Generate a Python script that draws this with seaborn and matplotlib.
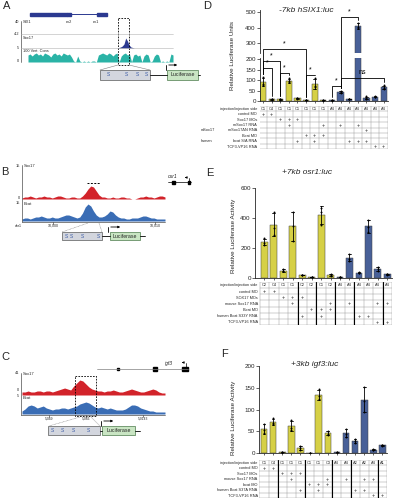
import numpy as np
import pandas as pd
import matplotlib
matplotlib.use("Agg")
import matplotlib.pyplot as plt
import seaborn as sns
from matplotlib.patches import Rectangle

W, H = 395, 500
YEL = "#EEE62E"
BLU = "#3B5BA5"

# ---------------- luciferase data (replicates per bar) ----------------
d_cells = ["C1", "C4", "C1", "C1", "C1", "C1", "C1", "C1", "A4", "A4", "A4", "A4", "A4", "A4", "A4"]
d_reps = [[115, 80, 78], [8, 9, 7], [8, 10, 7], [108, 93, 90], [15, 12, 10],
          [5, 4, 3], [108, 70, 65], [3, 4, 2], [3, 2, 4], [50, 45, 40],
          [11, 10, 9], [430, 405, 395], [22, 12, 11], [22, 20, 18], [75, 62, 58]]
d_group = ["Y"] * 8 + ["B"] * 7
d_rows = ["control MO", "Sox17 MOs", "mSox17 RNA", "mSox17ΔN RNA", "Bcat MO",
          "bcat S/A RNA", "TCF3-VP16 RNA"]
d_marks = [[0, 1], [2, 3, 4], [3, 7, 9, 11], [12], [5, 6, 7], [4, 6, 10, 11, 12], [13, 14]]

e_cells = ["C2", "C4", "C1", "C1", "C2", "C2", "C1", "C2", "A4", "A4", "A4", "A4", "A4", "A4"]
e_reps = [[265, 235, 220], [440, 335, 290], [58, 48, 44], [440, 345, 250], [22, 20, 18],
          [6, 5, 4], [465, 440, 355], [26, 20, 14], [6, 5, 4], [160, 130, 115],
          [38, 35, 32], [390, 340, 305], [75, 58, 47], [27, 24, 22]]
e_group = ["Y"] * 8 + ["B"] * 6
e_rows = ["control MO", "SOX17 MOs", "mouse Sox17 RNA", "Bcat MO",
          "human Bcat S33Y RNA", "TCF3-VP16 RNA"]
e_marks = [[0, 1], [2, 3, 4], [3, 7, 9, 12, 13], [5, 6, 7], [4, 6, 10, 11], [12, 13]]

f_cells = ["C1", "C4", "C1", "C1", "C1", "C1", "C1", "C3", "A4", "A4", "A2", "A2", "A4", "A1"]
f_reps = [[67, 52, 46], [80, 70, 66], [2, 2, 1], [75, 58, 54], [16, 11, 8],
          [1, 1, 1], [146, 130, 123], [50, 44, 41], [2, 2, 1], [55, 43, 37],
          [33, 28, 22], [152, 120, 95], [9, 8, 7], [19, 18, 17]]
f_group = ["Y"] * 8 + ["B"] * 6
f_rows = ["control MO", "Sox17 MOs", "mouse Sox17 RNA", "bcat MO",
          "human Bcat S37A RNA", "TCF3-VP16 RNA"]
f_marks = [[0, 1], [2, 3, 4], [3, 7, 9, 11, 12], [5, 6, 7], [4, 6, 10, 11], [12, 13]]

# ---------------- genome track signals ----------------
a_cons = [7, 8, 6, 8, 9, 7, 8, 6, 9, 8, 7, 5, 8, 9, 7, 8, 6, 9, 8, 7, 8, 5,
          1, 0, 6, 1, 0, 1, 0, 1, 0, 1, 1, 0,
          7, 8, 9, 8, 7, 9, 8, 6, 8, 9, 0, 6, 8, 9, 7, 8, 0,
          7, 8, 6, 7, 0, 6, 8, 7, 0, 1, 6, 8, 7, 0, 1, 0, 1, 0, 8, 7]
a_sox17 = [0, 0, 0, 0, 0.5, 1, 2, 4, 10, 7, 3, 1, 0.5, 0, 0]
b_sox17 = [1, 2, 2, 3, 2, 1, 2, 2, 3, 2, 2, 1, 2, 3, 3, 2, 1, 1, 2, 2, 1, 1,
           3, 6, 10, 13, 12, 8, 4, 2,
           2, 1, 1, 2, 1, 1, 2, 2, 1, 1, 0, 0,
           1, 2, 2, 3, 2, 2, 1, 2, 3, 3, 2]
b_bcat = [2, 3, 3, 2, 3, 4, 4, 5, 4, 3, 3, 4, 3, 3, 4, 5, 6, 6, 5, 4, 3, 4,
          8, 14, 17, 15, 10, 6, 4, 4,
          5, 7, 10, 9, 6, 4, 3, 3, 2, 2, 3, 3,
          3, 4, 5, 5, 4, 3, 3, 2, 2, 2, 2]
c_sox17 = [3, 3, 4, 3, 3, 4, 4, 3, 4, 4, 3, 4, 5, 6, 7, 6, 5,
           9, 12, 15, 14, 11, 8, 6, 5,
           4, 4, 3, 4, 4, 5, 4, 3, 3, 4, 5, 6, 5, 4, 3, 3, 4, 5, 6, 5, 3, 2, 2]
c_bcat = [3, 5, 8, 9, 8, 6, 7, 8, 6, 5, 4, 5, 5, 6, 6, 5, 6,
          7, 8, 10, 11, 12, 11, 9, 7,
          6, 7, 6, 5, 6, 5, 4, 4, 4, 5, 7, 9, 9, 8, 6, 5, 4, 3, 3, 2, 2, 2, 2]

sns.set_style("ticks")
plt.rcParams["font.family"] = ["Liberation Sans", "DejaVu Sans"]

fig = plt.figure(figsize=(W / 100, H / 100), dpi=100)
ov = fig.add_axes([0, 0, 1, 1])
ov.set_xlim(0, W)
ov.set_ylim(H, 0)
ov.axis("off")


def px_ax(x0, y0, x1, y1):
    ax = fig.add_axes([x0 / W, 1 - y1 / H, (x1 - x0) / W, (y1 - y0) / H])
    ax.set_facecolor("none")
    return ax


def to_ov(ax, x, y):
    return ov.transData.inverted().transform(ax.transData.transform((x, y)))


def bar_panel(ax, reps, group):
    df = pd.DataFrame([(str(i), v) for i, r in enumerate(reps) for v in r],
                      columns=["bar", "value"])
    order = [str(i) for i in range(len(reps))]
    pal = {str(i): (YEL if g == "Y" else BLU) for i, g in enumerate(group)}
    sns.barplot(data=df, x="bar", y="value", hue="bar", order=order, palette=pal,
                errorbar="sd", capsize=0.3, err_kws={"linewidth": 0.6, "color": "k"},
                edgecolor="0.25", linewidth=0.35, width=0.72, legend=False, ax=ax)
    sns.stripplot(data=df, x="bar", y="value", order=order, color="k", size=1.4,
                  jitter=False, ax=ax)
    ax.set_xlabel("")
    ax.set_ylabel("")
    ax.tick_params(axis="y", labelsize=4.5, length=2, width=0.5, pad=1)
    ax.tick_params(axis="x", length=1.5, width=0.5, labelbottom=False)
    for s in ["top", "right"]:
        ax.spines[s].set_visible(False)
    for s in ["left", "bottom"]:
        ax.spines[s].set_linewidth(0.6)


def draw_table(ax, cells, rows, marks, xlim, seps=(), groups=None):
    n = len(cells)
    nr = len(rows) + 1
    ax.set_xlim(*xlim)
    ax.set_ylim(nr, 0)
    ax.axis("off")
    for i in range(nr + 1):
        ax.plot([-0.5, n - 0.5], [i, i], color="0.55", lw=0.3)
    for j in range(n + 1):
        ax.plot([j - 0.5, j - 0.5], [0, nr], color="0.55", lw=0.3)
    for s in seps:
        ax.plot([s, s], [0, nr], color="black", lw=0.8)
    for j, c in enumerate(cells):
        ax.text(j, 0.55, c, ha="center", va="center", fontsize=2.8)
    ax.text(-0.7, 0.55, "injection/injection side", ha="right", va="center", fontsize=2.8)
    for i, r in enumerate(rows):
        ax.text(-0.7, i + 1.55, r, ha="right", va="center", fontsize=2.8)
    for i, m in enumerate(marks):
        for j in m:
            ax.text(j, i + 1.55, "+", ha="center", va="center", fontsize=4)
    if groups:
        for i, g in groups:
            ax.text(-7.2, i + 1.55, g, ha="left", va="center", fontsize=2.8)


# ---------------- panel D (broken axis) ----------------
d_top = px_ax(260, 10, 388, 53)
d_bot = px_ax(260, 58, 388, 101)
d_xlim = (-0.35, 14.5)
for ax in (d_top, d_bot):
    bar_panel(ax, d_reps, d_group)
    ax.set_xlim(*d_xlim)
d_top.set_ylim(240, 510)
d_top.set_yticks([300, 400, 500])
d_top.spines["bottom"].set_visible(False)
d_top.tick_params(axis="x", bottom=False)
d_bot.set_ylim(0, 205)
d_bot.set_yticks([0, 50, 100, 150, 200])

draw_table(px_ax(260, 106, 388, 149), d_cells, d_rows, d_marks, d_xlim,
           groups=[(3, "mSox17"), (5, "human")])
ov.text(233, 56, "Relative Luciferase Units", rotation=90, ha="center", va="center", fontsize=4.5)
ov.text(306, 10, "-7kb hSIX1:luc", ha="center", va="center", fontsize=6, style="italic")
ov.text(203, 1, "D", ha="left", va="top", fontsize=8)

# ---------------- panel E ----------------
e_ax = px_ax(255, 188, 392, 278)
bar_panel(e_ax, e_reps, e_group)
e_xlim = (-1.0, 13.5)
e_ax.set_xlim(*e_xlim)
e_ax.set_ylim(0, 600)
e_ax.set_yticks([0, 200, 400, 600])
draw_table(px_ax(255, 282, 392, 325), e_cells, e_rows, e_marks, e_xlim,
           seps=[3.5, 5.5, 7.5, 9.5, 12.5])
ov.text(234, 236, "Relative Luciferase Activity", rotation=90, ha="center", va="center", fontsize=4.5)
ov.text(307, 173, "+7kb osr1:luc", ha="center", va="center", fontsize=6, style="italic")
ov.text(206, 168, "E", ha="left", va="top", fontsize=8)

# ---------------- panel F ----------------
f_ax = px_ax(259, 366, 387, 453)
bar_panel(f_ax, f_reps, f_group)
f_xlim = (-0.55, 13.5)
f_ax.set_xlim(*f_xlim)
f_ax.set_ylim(0, 200)
f_ax.set_yticks([0, 50, 100, 150, 200])
draw_table(px_ax(259, 460, 387, 498), f_cells, f_rows, f_marks, f_xlim,
           seps=[1.5, 4.5, 7.5, 9.5, 12.5])
ov.text(233, 418, "Relative Luciferase Activity", rotation=90, ha="center", va="center", fontsize=4.5)
ov.text(315, 365, "+3kb igf3:luc", ha="center", va="center", fontsize=6, style="italic")
ov.text(221, 349, "F", ha="left", va="top", fontsize=8)


# ---------------- left schematics ----------------
def construct(bx0, bx1, y0, y1, s_x, lx0, lx1, arrow_x, arrow_end, tail):
    ov.add_patch(Rectangle((bx0, y0), bx1 - bx0, y1 - y0, facecolor="#D3D6DE",
                           edgecolor="0.35", lw=0.5))
    for sx in s_x:
        ov.text(sx, (y0 + y1) / 2, "S", ha="center", va="center", fontsize=3.5, color=BLU)
    ym = (y0 + y1) / 2
    ov.plot([bx1, lx0], [ym, ym], color="black", lw=0.6)
    ov.add_patch(Rectangle((lx0, y0), lx1 - lx0, y1 - y0, facecolor="#C9E5C3",
                           edgecolor="#4C7A4C", lw=0.5))
    ov.text((lx0 + lx1) / 2, ym, "Luciferase", ha="center", va="center", fontsize=3.8)
    ov.plot([lx1, tail], [ym, ym], color="black", lw=0.6)
    ov.plot([arrow_x, arrow_x], [y0, y0 - 5], color="black", lw=0.6)
    ov.annotate("", xy=(arrow_end, y0 - 5), xytext=(arrow_x, y0 - 5),
                arrowprops=dict(arrowstyle="-|>", lw=0.6, color="black", mutation_scale=3))


def track(x0, x1, base, vals, color, scale=1.0):
    xs = np.linspace(x0, x1, len(vals))
    ys = base - np.asarray(vals, dtype=float) * scale
    ov.fill_between(xs, base, ys, color=color, lw=0)


# panel A
NAVY = "#2B3990"
ov.text(3, 1, "A", ha="left", va="top", fontsize=8)
ov.plot([30, 107], [14.3, 14.3], color=NAVY, lw=0.7)
ov.add_patch(Rectangle((30, 12.5), 37, 3.6, color=NAVY))
ov.add_patch(Rectangle((67, 13), 4, 2.6, color=NAVY))
ov.add_patch(Rectangle((97, 12.5), 10, 3.6, color=NAVY))
ov.text(23, 22, "SIX1", fontsize=2.8, va="center")
ov.text(66, 22, "ex2", fontsize=2.8, va="center")
ov.text(93, 22, "ex1", fontsize=2.8, va="center")
ov.plot([21, 21], [21, 62], color="0.3", lw=0.5)
for y in (34, 48):
    ov.plot([21, 173], [y, y], color="0.7", lw=0.4)
for y, t in [(22, "40"), (34, "4.2"), (48, "5"), (61, "0")]:
    ov.text(19, y, t, ha="right", va="center", fontsize=2.8)
ov.text(23, 38, "Sox17", fontsize=2.8, va="center")
ov.text(23, 51, "100 Vert. Cons", fontsize=2.8, va="center")
track(28, 173, 62, a_cons, "#2AB3A6")
track(112, 136, 48, a_sox17, NAVY)
ov.add_patch(Rectangle((118, 18), 11, 47, fill=False, ls=(0, (2, 1.5)), lw=0.6, ec="black"))
ov.plot([118, 100], [65, 70], color="0.5", lw=0.4)
ov.plot([129, 150], [65, 70], color="0.5", lw=0.4)
construct(100, 150, 70, 80, [108, 126, 137, 146], 167, 198, 166, 180, 200)

# panel B
RED = "#D2232A"
TB = "#3A6DB5"
ov.text(1, 167, "B", ha="left", va="top", fontsize=8)
ov.plot([22, 22], [165, 222], color="0.3", lw=0.5)
ov.plot([22, 165], [222, 222], color="0.3", lw=0.5)
for x, t in [(53, "10,000"), (155, "10,010")]:
    ov.plot([x, x], [222, 223.5], color="0.3", lw=0.5)
    ov.text(x, 224, t, ha="center", va="top", fontsize=2.6)
ov.text(18, 224, "chr1", ha="center", va="top", fontsize=2.6)
for y, t in [(166, "15"), (198, "0"), (203, "15")]:
    ov.text(20, y, t, ha="right", va="center", fontsize=2.8)
ov.text(24, 166, "Sox17", fontsize=3, va="center")
ov.text(24, 204, "Bcat", fontsize=3, va="center")
track(22, 165, 199, b_sox17, RED)
track(22, 165, 221, b_bcat, TB)
ov.plot([87, 100], [183, 183], color="black", lw=0.7, ls=(0, (2, 1.5)))
ov.plot([168, 191], [182, 182], color="black", lw=0.5)
ov.add_patch(Rectangle((172, 180.5), 2.5, 3, color="black"))
ov.add_patch(Rectangle((187.5, 180.5), 2.5, 3, color="black"))
ov.text(168, 176.5, "osr1", fontsize=3.6, style="italic", va="center")
ov.plot([189, 189], [182, 177.5], color="black", lw=0.5)
ov.annotate("", xy=(182, 177.5), xytext=(189, 177.5),
            arrowprops=dict(arrowstyle="-|>", lw=0.5, color="black", mutation_scale=3))
ov.plot([88, 62], [223, 232], color="0.5", lw=0.4, ls=(0, (1.5, 1)))
ov.plot([99, 102], [223, 232], color="0.5", lw=0.4, ls=(0, (1.5, 1)))
construct(62, 102, 232, 240, [66, 71, 82, 98], 110, 140, 108, 123, 145)

# panel C
ov.text(1, 352, "C", ha="left", va="top", fontsize=8)
ov.plot([97, 188], [369, 369], color="0.5", lw=0.5)
ov.add_patch(Rectangle((117, 367.7), 2.2, 2.6, color="black"))
ov.add_patch(Rectangle((153, 367.3), 4, 3.4, color="black"))
ov.add_patch(Rectangle((182, 366.8), 6, 4.4, color="black"))
ov.text(165, 363, "igf3", fontsize=3.6, style="italic", va="center")
ov.plot([186, 186], [367, 362.5], color="black", lw=0.5)
ov.annotate("", xy=(179, 362.5), xytext=(186, 362.5),
            arrowprops=dict(arrowstyle="-|>", lw=0.5, color="black", mutation_scale=3))
ov.plot([21, 21], [373, 415], color="0.3", lw=0.5)
ov.plot([21, 165], [415, 415], color="0.3", lw=0.5)
for x in (49, 86, 143):
    ov.plot([x, x], [415, 416.5], color="0.3", lw=0.5)
    ov.text(x, 417, "5,0%d" % x, ha="center", va="top", fontsize=2.4)
for y, t in [(373, "41"), (390, "0"), (396, "5")]:
    ov.text(19, y, t, ha="right", va="center", fontsize=2.8)
ov.text(23, 374, "Sox17", fontsize=3, va="center")
ov.text(23, 398, "Bcat", fontsize=3, va="center")
track(22, 165, 395, c_sox17, RED)
track(22, 165, 414, c_bcat, TB)
ov.add_patch(Rectangle((75, 376), 21, 40, fill=False, ls=(0, (2, 1.5)), lw=0.6, ec="black"))
ov.plot([80, 49], [417, 426], color="0.5", lw=0.4, ls=(0, (1.5, 1)))
ov.plot([91, 100], [417, 426], color="0.5", lw=0.4, ls=(0, (1.5, 1)))
construct(48, 100, 426, 435, [52, 62, 73, 88], 102, 135, 101, 116, 140)

# ---------------- D significance brackets (top layer) ----------------
top = fig.add_axes([0, 0, 1, 1])
top.set_xlim(0, W)
top.set_ylim(H, 0)
top.axis("off")

d_brackets = [(0, 5, 265, "*"), (0, 2, 191, "*"), (0, 1, 157, "*"), (2, 3, 134, "*"),
              (5, 6, 124, "*"), (8, 9, 72, "*"), (9, 11, 464, "*"), (9, 14, 110, "ns")]


def d_pt(i, v):
    ax = d_top if v > 205 else d_bot
    return top.transData.inverted().transform(ax.transData.transform((i, v)))


for i, j, h, lab in d_brackets:
    xi, yh = d_pt(i, h)
    xj, _ = d_pt(j, h)
    _, yi = d_pt(i, max(d_reps[i]))
    _, yj = d_pt(j, max(d_reps[j]))
    top.plot([xi, xi, xj, xj], [yi - 3, yh, yh, yj - 3], color="#000000", lw=0.6)
    top.text((xi + xj) / 2, yh - 1.5, lab, ha="center", va="bottom", fontsize=5,
             color="#000000")

fig.savefig("out.png", dpi=100)
